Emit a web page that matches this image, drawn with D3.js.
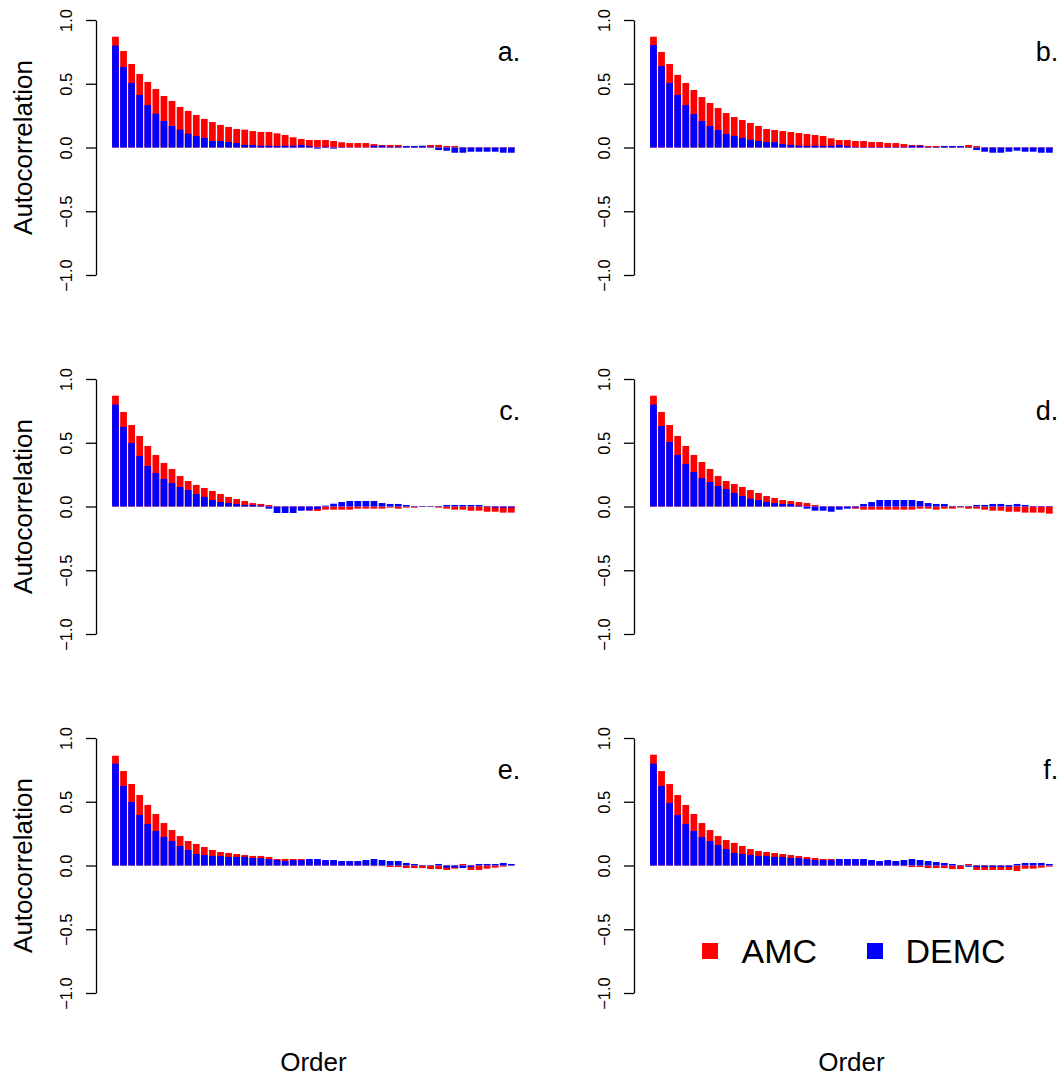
<!DOCTYPE html>
<html>
<head>
<meta charset="utf-8">
<script src="https://cdn.jsdelivr.net/npm/d3@7"></script>
<style>
  html, body { margin: 0; padding: 0; background: #fff; }
  svg { display: block; font-family: "Liberation Sans", Arial, Helvetica, sans-serif; }
</style>
</head>
<body>
<svg id="chart" width="1061" height="1078"></svg>
<script>
// ---- data (autocorrelation by order 1..50) ----
const orders = d3.range(1, 51);
const yTicks = [-1, -0.5, 0, 0.5, 1];
const yTickLabels = ["\u22121.0", "\u22120.5", "0.0", "0.5", "1.0"];
const panelLabels = ["a.", "b.", "c.", "d.", "e.", "f."];
const seriesNames = ["AMC", "DEMC"];
const seriesColors = ["#ff0000", "#0000ff"];

const amc_a = [0.869,0.757,0.655,0.576,0.514,0.459,0.404,0.365,0.318,0.287,0.255,0.224,0.200,0.177,0.161,0.145,0.140,0.129,0.122,0.122,0.111,0.098,0.080,0.067,0.059,0.059,0.059,0.051,0.041,0.035,0.035,0.035,0.027,0.020,0.020,0.020,0.008,0.007,0.007,0.020,0.020,0.012,0.012,-0.010,-0.008,-0.010,-0.012,-0.010,-0.015,-0.012];
const demc_a = [0.799,0.631,0.506,0.412,0.333,0.265,0.208,0.169,0.140,0.108,0.090,0.075,0.051,0.051,0.043,0.035,0.020,0.020,0.014,0.014,0.012,0.014,0.014,0.020,0.012,-0.009,0.007,-0.009,0.004,0.002,0.002,0.002,0.014,0.014,0.007,0.007,0.012,0.012,0.014,0.007,-0.020,-0.025,-0.041,-0.041,-0.033,-0.033,-0.033,-0.033,-0.041,-0.041];

const amc_b = [0.869,0.749,0.655,0.569,0.506,0.451,0.396,0.349,0.310,0.271,0.239,0.216,0.192,0.169,0.145,0.137,0.129,0.122,0.114,0.106,0.098,0.090,0.072,0.059,0.059,0.051,0.051,0.043,0.043,0.035,0.035,0.027,0.020,0.020,0.012,0.012,0.006,0.006,0.006,0.020,0.012,-0.005,-0.005,-0.008,-0.010,-0.008,-0.010,-0.012,-0.010,-0.012];
const demc_b = [0.804,0.639,0.506,0.412,0.333,0.263,0.208,0.169,0.137,0.106,0.090,0.075,0.061,0.051,0.043,0.043,0.027,0.020,0.014,0.012,0.014,0.012,0.014,0.020,0.012,0.004,0.004,0.004,0.004,0.004,0.004,0.004,0.014,0.014,0.004,0.004,0.012,0.012,0.012,0.004,-0.020,-0.033,-0.041,-0.041,-0.033,-0.025,-0.033,-0.033,-0.041,-0.041];

const amc_c = [0.869,0.741,0.639,0.553,0.475,0.404,0.341,0.294,0.239,0.200,0.169,0.145,0.122,0.098,0.075,0.059,0.043,0.027,0.020,0.012,-0.010,-0.015,-0.020,-0.025,-0.033,-0.035,-0.025,-0.025,-0.025,-0.025,-0.017,-0.017,-0.017,-0.017,-0.009,-0.017,-0.009,-0.009,-0.003,-0.003,-0.009,-0.017,-0.025,-0.025,-0.033,-0.033,-0.041,-0.041,-0.048,-0.048];
const demc_c = [0.799,0.624,0.498,0.396,0.318,0.263,0.216,0.184,0.153,0.129,0.098,0.075,0.051,0.035,0.027,0.020,0.012,0.012,0.007,-0.017,-0.051,-0.051,-0.051,-0.033,-0.030,-0.020,0.007,0.022,0.035,0.043,0.043,0.043,0.043,0.027,0.020,0.020,0.012,0.004,0.004,0.004,0.004,0.012,0.012,0.012,0.012,0.012,0.004,-0.009,-0.009,-0.009];

const amc_d = [0.869,0.741,0.639,0.553,0.475,0.404,0.349,0.294,0.239,0.200,0.177,0.153,0.129,0.106,0.082,0.067,0.051,0.043,0.035,0.027,0.012,-0.010,-0.015,-0.010,-0.005,-0.017,-0.025,-0.025,-0.025,-0.025,-0.025,-0.025,-0.025,-0.017,-0.017,-0.025,-0.017,-0.017,-0.009,-0.017,-0.017,-0.025,-0.033,-0.033,-0.041,-0.041,-0.048,-0.048,-0.048,-0.056];
const demc_d = [0.799,0.631,0.506,0.404,0.333,0.271,0.224,0.192,0.161,0.137,0.106,0.082,0.061,0.051,0.035,0.027,0.020,0.020,0.007,-0.017,-0.033,-0.033,-0.041,-0.025,-0.017,-0.009,0.020,0.035,0.051,0.051,0.051,0.051,0.051,0.043,0.027,0.020,0.020,0.004,0.004,0.004,0.012,0.012,0.020,0.020,0.012,0.020,0.012,0.004,0.004,0.004];

const amc_e = [0.861,0.741,0.639,0.553,0.475,0.404,0.333,0.278,0.231,0.192,0.169,0.145,0.122,0.106,0.098,0.090,0.082,0.075,0.075,0.067,0.051,0.051,0.051,0.051,0.040,0.040,0.035,0.035,0.030,0.030,0.030,0.030,-0.005,-0.005,-0.012,-0.012,-0.020,-0.020,-0.020,-0.028,-0.028,-0.035,-0.025,0.012,-0.035,-0.035,-0.025,-0.017,-0.009,-0.003];
const demc_e = [0.799,0.624,0.498,0.396,0.325,0.271,0.224,0.192,0.153,0.122,0.090,0.082,0.075,0.075,0.067,0.067,0.067,0.059,0.059,0.051,0.043,0.035,0.043,0.043,0.051,0.051,0.043,0.043,0.035,0.035,0.035,0.043,0.051,0.043,0.035,0.035,0.020,0.012,0.004,0.004,0.012,-0.017,-0.017,-0.020,-0.012,0.012,0.012,0.012,0.020,0.012];

const amc_f = [0.869,0.741,0.639,0.553,0.475,0.404,0.333,0.278,0.231,0.200,0.177,0.153,0.129,0.114,0.106,0.098,0.090,0.082,0.075,0.067,0.059,0.051,0.051,0.045,0.045,0.040,0.040,0.035,0.030,0.030,0.030,-0.005,-0.012,-0.012,-0.020,-0.020,-0.020,-0.028,-0.028,0.012,-0.035,-0.035,-0.035,-0.035,-0.035,-0.043,-0.025,-0.025,-0.017,-0.009];
const demc_f = [0.799,0.624,0.490,0.396,0.325,0.271,0.224,0.192,0.161,0.129,0.098,0.090,0.082,0.075,0.075,0.067,0.067,0.059,0.059,0.051,0.043,0.043,0.043,0.051,0.051,0.051,0.051,0.043,0.035,0.043,0.035,0.043,0.051,0.043,0.035,0.027,0.020,0.012,0.004,-0.010,-0.012,-0.012,-0.012,-0.012,-0.012,0.012,0.020,0.020,0.020,0.012];

const amcSeries = [amc_a, amc_b, amc_c, amc_d, amc_e, amc_f];
const demcSeries = [demc_a, demc_b, demc_c, demc_d, demc_e, demc_f];

// ---- layout ----
const svg = d3.select("#chart");
const colLeft = [96, 634];
const plotW = 434.8;
const rowTop = [20, 379, 738];   // pixel of y = 1.0
const axisLen = 255;             // 1.0 -> -1.0

for (let p = 0; p < 6; p++) {
  const col = p % 2, row = Math.floor(p / 2);
  const x0 = colLeft[col];
  const top = rowTop[row];

  // barplot-style x scale: bars at [0.2 + 1.2(i-1), 1.2 + 1.2(i-1)], 4% expansion
  const x = d3.scaleLinear().domain([-2.192, 62.392]).range([x0, x0 + plotW]);
  const y = d3.scaleLinear().domain([-1, 1]).range([top + axisLen, top]);
  const g = svg.append("g");

  const drawBars = (vals, color) => {
    g.append("g").selectAll("rect")
      .data(orders)
      .join("rect")
      .attr("x", (d, i) => x(0.2 + 1.2 * i))
      .attr("width", x(1) - x(0))
      .attr("y", (d, i) => Math.min(y(0), y(vals[i])))
      .attr("height", (d, i) => Math.abs(y(vals[i]) - y(0)))
      .attr("fill", color);
  };
  drawBars(amcSeries[p], seriesColors[0]);
  drawBars(demcSeries[p], seriesColors[1]);

  // y axis
  const axis = d3.axisLeft(y).tickValues(yTicks).tickSize(10).tickSizeOuter(0)
    .tickFormat((d, i) => yTickLabels[i]);
  const ag = g.append("g").attr("transform", `translate(${x0},0)`).call(axis);
  ag.select(".domain").attr("stroke-width", 1.3);
  ag.selectAll(".tick line").attr("stroke-width", 1.3);
  ag.selectAll(".tick text")
    .attr("x", null).attr("dy", null)
    .attr("transform", "translate(-24,0) rotate(-90)")
    .attr("text-anchor", "middle")
    .attr("font-size", 16.5)
    .attr("font-family", "'Liberation Sans', Arial, sans-serif")
    .attr("fill", "#000");

  // panel label
  g.append("text")
    .attr("x", x0 + plotW - 10.5)
    .attr("y", top + 41)
    .attr("text-anchor", "end")
    .attr("font-size", 27)
    .text(panelLabels[p]);

  // y title on left column
  if (col === 0) {
    g.append("text")
      .attr("transform", `translate(31.5,${(y(1) + y(-1)) / 2}) rotate(-90)`)
      .attr("text-anchor", "middle")
      .attr("font-size", 26)
      .text("Autocorrelation");
  }
  // x title on bottom row
  if (row === 2) {
    g.append("text")
      .attr("x", x0 + plotW / 2)
      .attr("y", 1071)
      .attr("text-anchor", "middle")
      .attr("font-size", 26)
      .text("Order");
  }
}

// ---- legend (in panel f) ----
const legend = svg.append("g");
const legX = [702, 867];
const legTextX = [741.5, 905.5];
seriesNames.forEach((name, i) => {
  legend.append("rect")
    .attr("x", legX[i]).attr("y", 943)
    .attr("width", 16).attr("height", 16)
    .attr("fill", seriesColors[i]);
  legend.append("text")
    .attr("x", legTextX[i]).attr("y", 963)
    .attr("font-size", 34)
    .text(name);
});
</script>
</body>
</html>
